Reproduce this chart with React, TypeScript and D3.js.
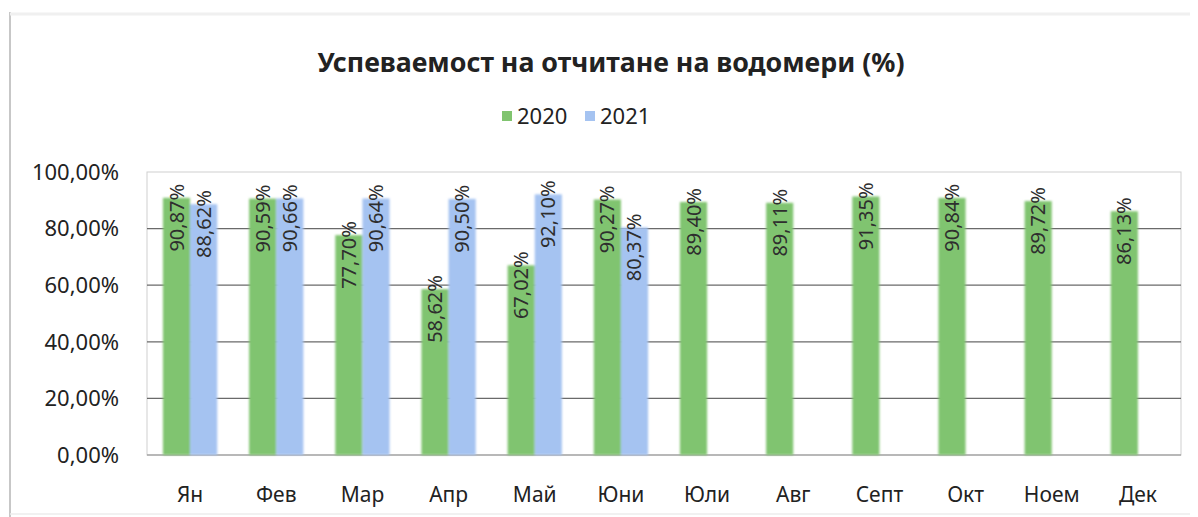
import React, { useRef, useEffect } from 'react';
import * as d3 from 'd3';

const months = ['Ян', 'Фев', 'Мар', 'Апр', 'Май', 'Юни', 'Юли', 'Авг', 'Септ', 'Окт', 'Ноем', 'Дек'];
const series = ['2020', '2021'];
const values2020 = [90.87, 90.59, 77.7, 58.62, 67.02, 90.27, 89.4, 89.11, 91.35, 90.84, 89.72, 86.13];
const values2021 = [88.62, 90.66, 90.64, 90.5, 92.1, 80.37];
const yTicks = [0, 20, 40, 60, 80, 100];
const colors = ['#80c46f', '#a5c3f1'];

const W = 1198;
const H = 517;
const FONT = '"Noto Sans", "Open Sans", sans-serif';

const pct = (v: number) => `${v.toFixed(2).replace('.', ',')}%`;

function App() {
  const svgRef = useRef<SVGSVGElement | null>(null);

  useEffect(() => {
    const svg = d3.select(svgRef.current);
    svg.selectAll('*').remove();

    const left = 147;
    const right = 1181;
    const top = 172;
    const bottom = 455;

    const x0 = d3.scaleBand<string>().domain(months).range([left, right]).paddingInner(0.37).paddingOuter(0.185);
    const x1 = d3.scaleBand<string>().domain(series).range([0, x0.bandwidth()]);
    const y = d3.scaleLinear().domain([0, 100]).range([bottom, top]);
    const color = d3.scaleOrdinal<string, string>().domain(series).range(colors);

    const defs = svg.append('defs');
    defs.append('filter').attr('id', 'soft')
      .append('feGaussianBlur').attr('stdDeviation', 0.9);

    // outer frame (scan edges)
    svg.append('line').attr('x1', 10).attr('x2', 10).attr('y1', 12).attr('y2', H)
      .attr('stroke', '#b5b5b5').attr('stroke-width', 1.5);
    svg.append('line').attr('x1', 10).attr('x2', 1190).attr('y1', 14).attr('y2', 14)
      .attr('stroke', '#f0f0f0').attr('stroke-width', 3);
    svg.append('line').attr('x1', 10).attr('x2', 1190).attr('y1', 514).attr('y2', 514)
      .attr('stroke', '#ececec').attr('stroke-width', 1.5);

    // title
    svg.append('text').attr('x', 611).attr('y', 72).attr('text-anchor', 'middle')
      .attr('font-family', FONT).attr('font-weight', 700).attr('font-size', 26).attr('fill', '#222')
      .attr('textLength', 587).attr('lengthAdjust', 'spacingAndGlyphs')
      .text('Успеваемост на отчитане на водомери (%)');

    // legend
    const leg = svg.append('g');
    const legX = [502, 585];
    series.forEach((s, i) => {
      leg.append('rect').attr('x', legX[i]).attr('y', 111).attr('width', 10).attr('height', 10)
        .attr('fill', color(s));
      leg.append('text').attr('x', legX[i] + 15).attr('y', 124)
        .attr('font-family', FONT).attr('font-size', 22).attr('fill', '#222').text(s);
    });

    // plot frame and gridlines
    svg.append('rect').attr('x', left).attr('y', top).attr('width', right - left).attr('height', bottom - top)
      .attr('fill', 'none').attr('stroke', '#cfcfcf').attr('stroke-width', 1);
    svg.append('g').selectAll('line').data(yTicks.filter((t) => t > 0 && t < 100)).join('line')
      .attr('x1', left).attr('x2', right)
      .attr('y1', (d) => y(d)).attr('y2', (d) => y(d))
      .attr('stroke', '#6a6a6a').attr('stroke-width', 1.2);
    svg.append('line').attr('x1', left).attr('x2', right).attr('y1', bottom).attr('y2', bottom)
      .attr('stroke', '#8a8a8a').attr('stroke-width', 1.2);

    // y tick labels
    svg.append('g').selectAll('text').data(yTicks).join('text')
      .attr('x', 119).attr('y', (d) => y(d)).attr('dy', '0.35em').attr('text-anchor', 'end')
      .attr('font-family', FONT).attr('font-size', 22).attr('fill', '#222')
      .text((d) => pct(d));

    // month labels
    svg.append('g').selectAll('text').data(months).join('text')
      .attr('x', (d) => (x0(d) as number) + x0.bandwidth() / 2).attr('y', 502)
      .attr('text-anchor', 'middle')
      .attr('font-family', FONT).attr('font-size', 21).attr('fill', '#222')
      .text((d) => d);

    const bars = [
      ...values2020.map((v, i) => ({ month: months[i], s: series[0], v })),
      ...values2021.map((v, i) => ({ month: months[i], s: series[1], v })),
    ];

    svg.append('g').attr('filter', 'url(#soft)').selectAll('rect').data(bars).join('rect')
      .attr('x', (d) => (x0(d.month) as number) + (x1(d.s) as number))
      .attr('width', x1.bandwidth())
      .attr('y', (d) => y(d.v))
      .attr('height', (d) => bottom - y(d.v))
      .attr('fill', (d) => color(d.s));

    svg.append('g').selectAll('text').data(bars).join('text')
      .attr('transform', (d) => {
        const cx = (x0(d.month) as number) + (x1(d.s) as number) + x1.bandwidth() / 2;
        return `translate(${cx},${y(d.v) - 14}) rotate(-90)`;
      })
      .attr('text-anchor', 'end').attr('dy', '0.35em')
      .attr('font-family', FONT).attr('font-size', 20).attr('fill', '#2e2e2e')
      .text((d) => pct(d.v));
  }, []);

  return (
    <div style={{ position: 'absolute', left: 0, top: 0, background: '#fff' }}>
      <svg ref={svgRef} width={W} height={H} style={{ display: 'block' }} />
    </div>
  );
}

export default App;
